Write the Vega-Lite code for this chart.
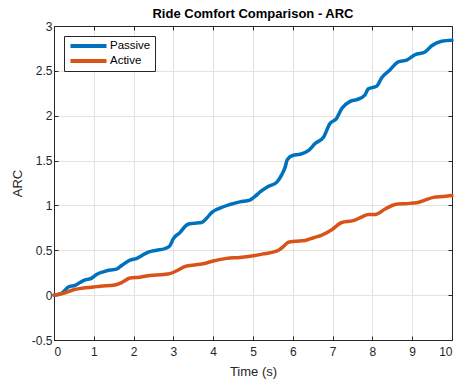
{
  "$schema": "https://vega.github.io/schema/vega-lite/v6.json",
  "width": 398,
  "height": 314,
  "autosize": "none",
  "padding": {"left": 54, "top": 26, "right": 5, "bottom": 41},
  "background": "white",
  "title": {"text": "Ride Comfort Comparison - ARC", "font": "Liberation Sans", "fontSize": 13, "fontWeight": "bold", "color": "#000000", "offset": -1},
  "config": {
    "view": {"stroke": null},
    "axis": {"labelFont": "Liberation Sans", "titleFont": "Liberation Sans", "labelFontSize": 12, "titleFontSize": 13, "labelColor": "#262626", "titleColor": "#262626", "titleFontWeight": "normal", "domainColor": "#262626", "tickColor": "#262626", "gridColor": "#e2e2e2", "gridWidth": 1, "tickSize": -4, "domainWidth": 1}
  },
  "datasets": {
    "arc": [
      {"t": 0, "v": 0, "s": "Passive"}, {"t": 0.19, "v": 0.02, "s": "Passive"}, {"t": 0.36, "v": 0.09, "s": "Passive"}, {"t": 0.53, "v": 0.11, "s": "Passive"}, {"t": 0.65, "v": 0.14, "s": "Passive"}, {"t": 0.78, "v": 0.17, "s": "Passive"}, {"t": 0.95, "v": 0.19, "s": "Passive"}, {"t": 1.07, "v": 0.23, "s": "Passive"}, {"t": 1.24, "v": 0.26, "s": "Passive"}, {"t": 1.41, "v": 0.28, "s": "Passive"}, {"t": 1.57, "v": 0.29, "s": "Passive"}, {"t": 1.70, "v": 0.33, "s": "Passive"}, {"t": 1.91, "v": 0.39, "s": "Passive"}, {"t": 2.08, "v": 0.41, "s": "Passive"}, {"t": 2.20, "v": 0.44, "s": "Passive"}, {"t": 2.37, "v": 0.48, "s": "Passive"}, {"t": 2.58, "v": 0.50, "s": "Passive"}, {"t": 2.79, "v": 0.52, "s": "Passive"}, {"t": 2.91, "v": 0.55, "s": "Passive"}, {"t": 3.0, "v": 0.63, "s": "Passive"}, {"t": 3.17, "v": 0.70, "s": "Passive"}, {"t": 3.30, "v": 0.77, "s": "Passive"}, {"t": 3.37, "v": 0.79, "s": "Passive"}, {"t": 3.5, "v": 0.80, "s": "Passive"}, {"t": 3.71, "v": 0.81, "s": "Passive"}, {"t": 3.84, "v": 0.86, "s": "Passive"}, {"t": 3.96, "v": 0.92, "s": "Passive"}, {"t": 4.17, "v": 0.97, "s": "Passive"}, {"t": 4.42, "v": 1.01, "s": "Passive"}, {"t": 4.67, "v": 1.04, "s": "Passive"}, {"t": 4.92, "v": 1.06, "s": "Passive"}, {"t": 5.05, "v": 1.10, "s": "Passive"}, {"t": 5.18, "v": 1.15, "s": "Passive"}, {"t": 5.38, "v": 1.21, "s": "Passive"}, {"t": 5.60, "v": 1.26, "s": "Passive"}, {"t": 5.72, "v": 1.34, "s": "Passive"}, {"t": 5.81, "v": 1.43, "s": "Passive"}, {"t": 5.86, "v": 1.51, "s": "Passive"}, {"t": 6.01, "v": 1.56, "s": "Passive"}, {"t": 6.18, "v": 1.57, "s": "Passive"}, {"t": 6.39, "v": 1.61, "s": "Passive"}, {"t": 6.56, "v": 1.69, "s": "Passive"}, {"t": 6.77, "v": 1.76, "s": "Passive"}, {"t": 6.93, "v": 1.91, "s": "Passive"}, {"t": 7.10, "v": 1.97, "s": "Passive"}, {"t": 7.23, "v": 2.08, "s": "Passive"}, {"t": 7.44, "v": 2.16, "s": "Passive"}, {"t": 7.61, "v": 2.18, "s": "Passive"}, {"t": 7.81, "v": 2.23, "s": "Passive"}, {"t": 7.90, "v": 2.30, "s": "Passive"}, {"t": 8.11, "v": 2.33, "s": "Passive"}, {"t": 8.23, "v": 2.42, "s": "Passive"}, {"t": 8.44, "v": 2.51, "s": "Passive"}, {"t": 8.65, "v": 2.60, "s": "Passive"}, {"t": 8.86, "v": 2.62, "s": "Passive"}, {"t": 9.07, "v": 2.68, "s": "Passive"}, {"t": 9.32, "v": 2.71, "s": "Passive"}, {"t": 9.49, "v": 2.78, "s": "Passive"}, {"t": 9.74, "v": 2.83, "s": "Passive"}, {"t": 10, "v": 2.84, "s": "Passive"},
      {"t": 0, "v": 0, "s": "Active"}, {"t": 0.23, "v": 0.02, "s": "Active"}, {"t": 0.49, "v": 0.06, "s": "Active"}, {"t": 0.74, "v": 0.08, "s": "Active"}, {"t": 0.99, "v": 0.09, "s": "Active"}, {"t": 1.16, "v": 0.10, "s": "Active"}, {"t": 1.49, "v": 0.11, "s": "Active"}, {"t": 1.70, "v": 0.14, "s": "Active"}, {"t": 1.91, "v": 0.19, "s": "Active"}, {"t": 2.16, "v": 0.20, "s": "Active"}, {"t": 2.41, "v": 0.22, "s": "Active"}, {"t": 2.75, "v": 0.23, "s": "Active"}, {"t": 2.91, "v": 0.24, "s": "Active"}, {"t": 3.12, "v": 0.28, "s": "Active"}, {"t": 3.30, "v": 0.32, "s": "Active"}, {"t": 3.42, "v": 0.33, "s": "Active"}, {"t": 3.75, "v": 0.35, "s": "Active"}, {"t": 4.0, "v": 0.38, "s": "Active"}, {"t": 4.34, "v": 0.41, "s": "Active"}, {"t": 4.67, "v": 0.42, "s": "Active"}, {"t": 5.01, "v": 0.44, "s": "Active"}, {"t": 5.26, "v": 0.46, "s": "Active"}, {"t": 5.64, "v": 0.50, "s": "Active"}, {"t": 5.76, "v": 0.54, "s": "Active"}, {"t": 5.89, "v": 0.59, "s": "Active"}, {"t": 6.06, "v": 0.60, "s": "Active"}, {"t": 6.31, "v": 0.61, "s": "Active"}, {"t": 6.52, "v": 0.64, "s": "Active"}, {"t": 6.73, "v": 0.67, "s": "Active"}, {"t": 6.98, "v": 0.73, "s": "Active"}, {"t": 7.23, "v": 0.81, "s": "Active"}, {"t": 7.52, "v": 0.83, "s": "Active"}, {"t": 7.73, "v": 0.87, "s": "Active"}, {"t": 7.90, "v": 0.90, "s": "Active"}, {"t": 8.07, "v": 0.90, "s": "Active"}, {"t": 8.32, "v": 0.96, "s": "Active"}, {"t": 8.57, "v": 1.01, "s": "Active"}, {"t": 8.82, "v": 1.02, "s": "Active"}, {"t": 9.11, "v": 1.03, "s": "Active"}, {"t": 9.32, "v": 1.06, "s": "Active"}, {"t": 9.53, "v": 1.09, "s": "Active"}, {"t": 9.78, "v": 1.10, "s": "Active"}, {"t": 10, "v": 1.11, "s": "Active"}
    ]
  },
  "data": {"name": "arc"},
  "layer": [
    {
      "mark": {"type": "line", "strokeWidth": 3.5, "interpolate": "monotone", "strokeCap": "round", "strokeJoin": "round"},
      "encoding": {
        "x": {"field": "t", "type": "quantitative", "scale": {"domain": [0, 10], "nice": false}, "axis": {"title": "Time (s)", "values": [0,1,2,3,4,5,6,7,8,9,10], "labelPadding": 10, "titlePadding": 8}},
        "y": {"field": "v", "type": "quantitative", "scale": {"domain": [-0.5, 3], "nice": false, "zero": false}, "axis": {"title": "ARC", "values": [-0.5,0,0.5,1,1.5,2,2.5,3], "labelExpr": "toString(datum.value)", "labelPadding": 6, "titlePadding": 7}},
        "color": {"field": "s", "type": "nominal", "scale": {"domain": ["Passive", "Active"], "range": ["#0072BD", "#D95319"]},
          "legend": {"title": null, "orient": "none", "legendX": 10, "legendY": 10, "symbolType": "stroke", "symbolSize": 1300, "symbolStrokeWidth": 4, "clipHeight": 12, "labelFont": "Liberation Sans", "labelFontSize": 11.5, "labelColor": "#000000", "strokeColor": "#262626", "fillColor": "white", "padding": 4, "rowPadding": 3, "labelOffset": 1}}
      }
    },
    {
      "mark": {"type": "rule", "opacity": 0},
      "encoding": {
        "x": {"field": "t", "type": "quantitative", "scale": {"domain": [0, 10], "nice": false}, "axis": {"orient": "top", "title": null, "labels": false, "grid": false, "values": [0,1,2,3,4,5,6,7,8,9,10]}},
        "y": {"field": "v", "type": "quantitative", "scale": {"domain": [-0.5, 3], "nice": false, "zero": false}, "axis": {"orient": "right", "title": null, "labels": false, "grid": false, "values": [-0.5,0,0.5,1,1.5,2,2.5,3]}}
      }
    }
  ],
  "resolve": {"axis": {"x": "independent", "y": "independent"}}
}
